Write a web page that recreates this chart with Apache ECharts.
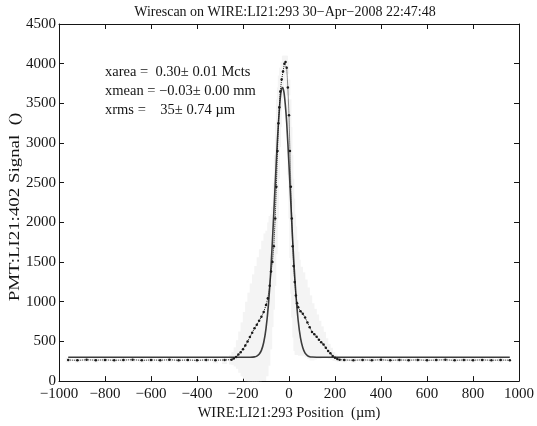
<!DOCTYPE html>
<html>
<head>
<meta charset="utf-8">
<style>
  html, body { margin: 0; padding: 0; background: #fff; }
  #chart { width: 537px; height: 426px; }
</style>
<script src="https://cdn.jsdelivr.net/npm/echarts@6/dist/echarts.min.js"></script>
</head>
<body>
<div id="chart"></div>
<script>
// ---- Data ----
const titleText = 'Wirescan on WIRE:LI21:293 30\u2212Apr\u22122008 22:47:48';
const xAxisName = 'WIRE:LI21:293 Position  (\u00b5m)';
const yAxisName = 'PMT:LI21:402 Signal  ()';
const statLines = [
  'xarea =  0.30\u00b1 0.01 Mcts',
  'xmean = \u22120.03\u00b1 0.00 mm',
  'xrms =    35\u00b1 0.74 \u00b5m'
];

// measured wire-scan points (position in um, signal)
const dataX = [-960,-920,-880,-840,-800,-760,-720,-680,-640,-600,-560,-520,-480,-440,-400,-360,-320,-280,
  -250,-240,-230,-220,-210,-200,-190,-180,-170,-160,-150,-140,-130,-120,-110,-100,-92,-84,-78,-72,-66,-60,-55,-50,-46,-42,-38,-32,-26,-20,-15,
  -10,-5,0,4,8,12,16,20,25,30,35,40,50,60,70,80,90,100,110,120,130,140,150,160,170,180,190,200,210,220,
  240,280,320,360,400,440,480,520,560,600,640,680,720,760,800,840,880,920,960];
const dataY = [266,262,268,264,267,263,265,269,262,266,264,268,263,266,262,267,264,266,
  270,285,305,335,365,400,450,500,555,610,665,710,760,810,870,960,1045,1200,1380,1500,1700,2050,2450,2900,3250,3450,3650,3800,3900,4000,4020,
  3950,3700,3350,2900,2450,2050,1700,1450,1250,1080,980,930,880,850,800,740,680,620,590,560,520,490,460,420,380,350,315,295,280,270,
  266,263,267,264,268,262,266,264,267,263,265,268,262,266,264,267,263,265,264];
// faint error bars of the measured points
const dataErr = [30,30,30,30,30,30,30,30,30,30,30,30,30,30,30,30,40,50,
  60,80,120,180,260,340,420,500,560,620,680,740,800,850,900,900,850,800,700,600,500,450,400,350,300,250,200,150,120,100,80,
  80,100,200,300,400,500,600,650,700,700,650,600,560,520,480,440,400,360,320,280,240,200,160,120,90,70,50,40,30,
  30,30,30,30,30,30,30,30,30,30,30,30,30,30,30,30,30,30,30];

// gaussian fit curve (position in um, signal)
const fitX = [-960,-200,-170,-150,-140,-130,-120,-110,-100,-90,-80,-70,-60,-50,-40,-34,-28,-22,-16,-10,0,10,20,30,40,50,60,70,80,90,100,120,960];
const fitY = [300,300,301,305,315,338,387,486,661,945,1354,1886,2483,3058,3495,3660,3700,3640,3480,3256,2722,2120,1555,1094,760,545,420,353,322,308,303,301,300];

const xTicks = { min: -1000, max: 1000, interval: 200 };
const yTicks = { min: 0, max: 4500, interval: 500 };

// ---- Chart ----
const chart = echarts.init(document.getElementById('chart'), null, { renderer: 'canvas' });
const serif = '"Liberation Serif", "DejaVu Serif", serif';
const ink = '#151515';
const fmt = v => String(v).replace('-', '\u2212');

const dataPairs = dataX.map((x, i) => [x, dataY[i]]);
const errPairs = dataX.map((x, i) => [x, Math.max(0, dataY[i] - dataErr[i]), dataY[i] + dataErr[i]]);
const fitPairs = fitX.map((x, i) => [x, fitY[i]]);

function axisCommon(showLabel, margin) {
  return {
    axisLine: { show: true, onZero: false, lineStyle: { color: ink, width: 1 } },
    axisTick: { show: true, inside: true, length: 5, lineStyle: { color: ink, width: 1 } },
    splitLine: { show: false },
    axisLabel: { show: showLabel, color: ink, fontFamily: serif, fontSize: 15, margin: margin || 5, formatter: fmt }
  };
}

const option = {
  backgroundColor: '#ffffff',
  animation: false,
  grid: { left: 59, right: 15, top: 24, bottom: 40, containLabel: false },
  xAxis: [
    Object.assign({
      type: 'value', min: xTicks.min, max: xTicks.max, interval: xTicks.interval, position: 'bottom',
      name: xAxisName, nameLocation: 'middle', nameGap: 22,
      nameTextStyle: { color: ink, fontFamily: serif, fontSize: 14.5 }
    }, axisCommon(true, 5)),
    Object.assign({
      type: 'value', min: xTicks.min, max: xTicks.max, interval: xTicks.interval, position: 'top'
    }, axisCommon(false))
  ],
  yAxis: [
    Object.assign({
      type: 'value', min: yTicks.min, max: yTicks.max, interval: yTicks.interval, position: 'left'
    }, axisCommon(true, 3)),
    Object.assign({
      type: 'value', min: yTicks.min, max: yTicks.max, interval: yTicks.interval, position: 'right'
    }, axisCommon(false))
  ],
  graphic: [
    { type: 'text', x: 285, y: 12,
      style: { text: titleText, fill: ink, font: '14px ' + serif, textAlign: 'center', textVerticalAlign: 'middle' } },
    { type: 'text', x: 15, y: 207, rotation: Math.PI / 2, scaleX: 1.35,
      style: { text: yAxisName, fill: ink, font: '14px ' + serif, textAlign: 'center', textVerticalAlign: 'middle' } }
  ].concat(statLines.map((t, i) => ({
    type: 'text', x: 105, y: 72 + i * 19,
    style: { text: t, fill: ink, font: '14.5px ' + serif, textVerticalAlign: 'middle' }
  }))),
  series: [
    {
      type: 'custom', xAxisIndex: 0, yAxisIndex: 0, z: 1, silent: true,
      data: errPairs,
      renderItem: function (params, api) {
        const top = api.coord([api.value(0), api.value(2)]);
        const bot = api.coord([api.value(0), api.value(1)]);
        return {
          type: 'rect',
          shape: { x: top[0] - 2.5, y: top[1], width: 5, height: bot[1] - top[1] },
          style: { fill: '#f4f4f4' }
        };
      }
    },
    {
      type: 'line', xAxisIndex: 0, yAxisIndex: 0, z: 3,
      data: fitPairs, showSymbol: false, smooth: 0.3,
      lineStyle: { color: '#3c3c3c', width: 1.6 }
    },
    {
      type: 'line', xAxisIndex: 0, yAxisIndex: 0, z: 4,
      data: dataPairs, symbol: 'circle', symbolSize: 2.5, showSymbol: true,
      itemStyle: { color: '#1a1a1a' },
      lineStyle: { color: '#1a1a1a', width: 1, type: 'dotted' }
    }
  ]
};
chart.setOption(option);
</script>
</body>
</html>
